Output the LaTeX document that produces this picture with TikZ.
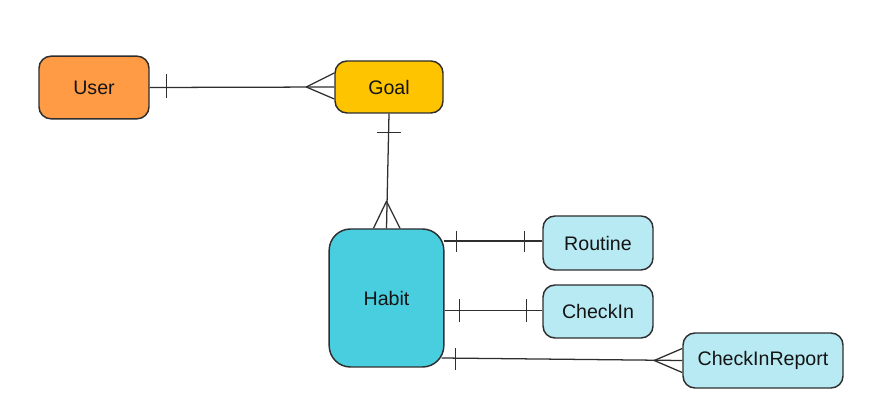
\documentclass[tikz,border=0pt]{standalone}
\usepackage{fontspec}
\setmainfont{Liberation Sans}
\usetikzlibrary{calc}
\definecolor{userc}{HTML}{FF9A45}
\definecolor{goalc}{HTML}{FFC400}
\definecolor{habitc}{HTML}{49CEE0}
\definecolor{lightc}{HTML}{B8EAF3}
\definecolor{edgec}{HTML}{2E2E2E}
\begin{document}
\begin{tikzpicture}[x=0.75pt,y=-0.75pt,
  ent/.style={draw=edgec,line width=1.1pt,rounded corners=9pt,align=center,
    font=\fontsize{14.7}{17}\selectfont,text=black!92,inner sep=0pt},
  rel/.style={draw=edgec,line width=0.95pt}]
\useasboundingbox (0,0) rectangle (886,420);
\node[ent,fill=userc,minimum width=82.5pt,minimum height=47pt] (user) at (94,87.5) {User};
\node[ent,fill=goalc,minimum width=81pt,minimum height=39pt] (goal) at (389,87) {Goal};
\node[ent,fill=habitc,minimum width=86pt,minimum height=103.5pt,rounded corners=16pt] (habit) at (386.5,298) {Habit};
\node[ent,fill=lightc,minimum width=82.5pt,minimum height=40.5pt] (routine) at (598,243) {Routine};
\node[ent,fill=lightc,minimum width=82.5pt,minimum height=39.75pt] (checkin) at (598,311.5) {CheckIn};
\node[ent,fill=lightc,minimum width=120pt,minimum height=41.25pt] (report) at (763,360.5) {CheckInReport};
% User -- Goal
\draw[rel] (user.east) -- (goal.west);
\draw[rel] ($(user.east)+(17,-13)$) -- ++(0,24);
\draw[rel] ($(goal.west)+(-28,0)$) -- ($(goal.west)+(0,-14)$);
\draw[rel] ($(goal.west)+(-28,0)$) -- ($(goal.west)+(0,12)$);
% Goal -- Habit
\draw[rel] (goal.south) -- (habit.north);
\draw[rel] ($(goal.south)+(-12,19)$) -- ++(24,0);
\draw[rel] ($(habit.north)+(0,-27)$) -- ($(habit.north)+(-13,0)$);
\draw[rel] ($(habit.north)+(0,-27)$) -- ($(habit.north)+(13.5,0)$);
% Habit -- Routine
\coordinate (hr) at (routine.west -| habit.east);
\draw[rel] ($(hr)+(-1,-2)$) -- ($(routine.west)+(0,-2)$);
\draw[rel] ($(hr)+(12,-12)$) -- ++(0,21);
\draw[rel] ($(routine.west)+(-18,-12)$) -- ++(0,21);
% Habit -- CheckIn
\coordinate (hc) at (checkin.west -| habit.east);
\draw[rel] ($(hc)+(0,-1)$) -- ($(checkin.west)+(0,-1)$);
\draw[rel] ($(hc)+(15,-12)$) -- ++(0,23);
\draw[rel] ($(checkin.west)+(-16,-12)$) -- ++(0,23);
% Habit -- CheckInReport
\coordinate (hk) at ($(habit.east)+(-3,60)$);
\draw[rel] (hk) -- (report.west);
\draw[rel] ($(hk)+(14,-10)$) -- ++(0,22);
\draw[rel] ($(report.west)+(-28,0)$) -- ($(report.west)+(0,-12)$);
\draw[rel] ($(report.west)+(-28,0)$) -- ($(report.west)+(0,12)$);
\end{tikzpicture}
\end{document}
